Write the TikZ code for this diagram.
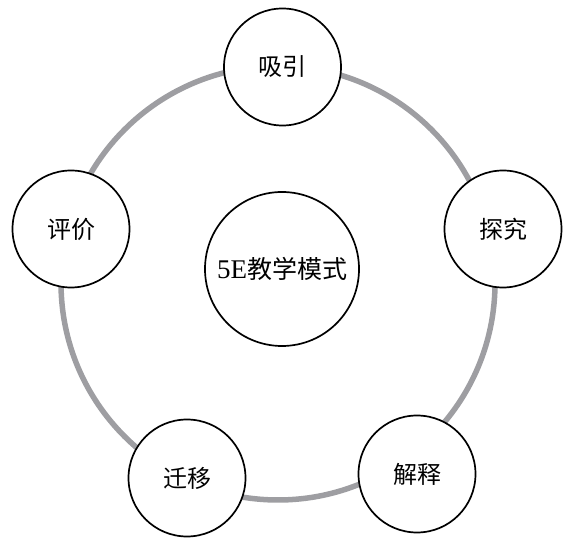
\documentclass[tikz,border=0pt]{standalone}
\usepackage{fontspec}
\newfontfamily\cjk{Noto Sans CJK SC}
\newfontfamily\latserif{Liberation Serif}
\definecolor{ringgray}{RGB}{158,158,162}
\begin{document}
\begin{tikzpicture}[x=1pt,y=1pt,
  stage/.style={circle,draw=black,line width=1.7pt,fill=white,minimum size=117pt,inner sep=0pt,font=\cjk\fontsize{24}{26}\selectfont},
  core/.style={circle,draw=black,line width=1.7pt,fill=white,minimum size=154pt,inner sep=0pt,font=\cjk\fontsize{25}{27}\selectfont},
  ring/.style={draw=ringgray,line width=5.5pt}]
\useasboundingbox (0,0) rectangle (567,540);
\coordinate (rc) at (278,257);
\draw[ring] (rc) circle (217);
\node[core] (center) at (282,271) {{\latserif\fontsize{27}{27}\selectfont 5E}教学模式};
\node[stage] (xiyin) at (282.5,473) {吸引};
\node[stage] (tanjiu) at (503,311) {探究};
\node[stage] (jieshi) at (417,66) {解释};
\node[stage] (qianyi) at (187,62) {迁移};
\node[stage] (pingjia) at (71,311) {评价};
\end{tikzpicture}
\end{document}
